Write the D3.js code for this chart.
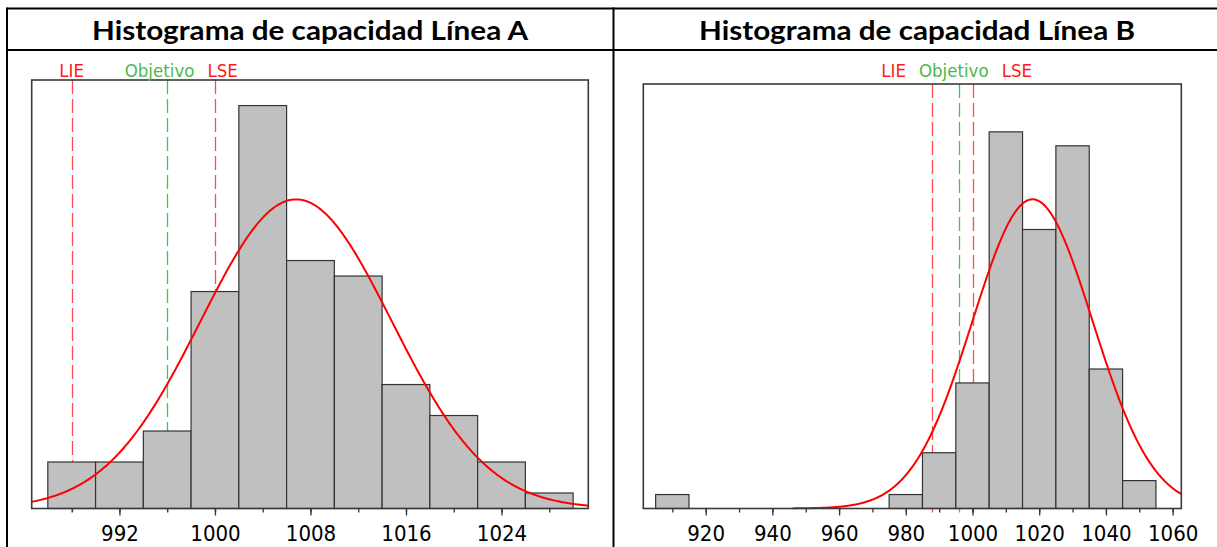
<!DOCTYPE html>
<html>
<head>
<meta charset="utf-8">
<script src="https://cdn.jsdelivr.net/npm/d3@7"></script>
<style>
    html, body { margin: 0; padding: 0; background: #fff; }
    svg { display: block; }
</style>
</head>
<body>
<svg id="chart" width="1217" height="547"></svg>
<script>
(function () {
    'use strict';

    // Línea A
    var edgesA = [986, 990, 994, 998, 1002, 1006, 1010, 1014, 1018, 1022, 1026, 1030];
    var countsA = [3, 3, 5, 14, 26, 16, 15, 8, 6, 3, 1];
    var minorTicksA = [988, 992, 996, 1000, 1004, 1008, 1012, 1016, 1020, 1024, 1028];
    var labelTicksA = [992, 1000, 1008, 1016, 1024];
    var xDomainA = [984.65, 1031.27];
    var yMaxA = 27.65;
    var meanA = 1006.8, sdA = 8.0;

    // Línea B
    var edgesB = [905, 915, 925, 935, 945, 955, 965, 975, 985, 995, 1005, 1015, 1025, 1035, 1045, 1055];
    var countsB = [1, 0, 0, 0, 0, 0, 0, 1, 4, 9, 27, 20, 26, 10, 2];
    var minorTicksB = [910, 920, 930, 940, 950, 960, 970, 980, 990, 1000, 1010, 1020, 1030, 1040, 1050, 1060];
    var labelTicksB = [920, 940, 960, 980, 1000, 1020, 1040, 1060];
    var xDomainB = [901.3, 1062.6];
    var yMaxB = 30.43;
    var meanB = 1018, sdB = 18.0;

    // specification limits (same for both lines)
    var specNames = ['LIE', 'Objetivo', 'LSE'];
    var specValues = [988, 996, 1000];

    var titles = ['Histograma de capacidad Línea A', 'Histograma de capacidad Línea B'];

    var labelColor = {LIE: '#ff1a1a', Objetivo: '#4cb84c', LSE: '#ff1a1a'};
    var lineColor = {LIE: '#ff4d4d', Objetivo: '#4cc04c', LSE: '#ff4d4d'};

    var svg = d3.select('#chart');
    var bottom = 508.5;

    var panels = [
        {edges: edgesA, counts: countsA, minor: minorTicksA, major: labelTicksA, xDomain: xDomainA, yMax: yMaxA,
            mean: meanA, sd: sdA, left: 31.7, right: 588.3, top: 80, cellLeft: 7, cellRight: 613, title: titles[0]},
        {edges: edgesB, counts: countsB, minor: minorTicksB, major: labelTicksB, xDomain: xDomainB, yMax: yMaxB,
            mean: meanB, sd: sdB, left: 643.3, right: 1181.3, top: 84, cellLeft: 613, cellRight: 1221, title: titles[1]}
    ];

    // table grid
    var grid = svg.append('g').attr('stroke', '#000').attr('stroke-width', 2);
    grid.append('line').attr('x1', 7).attr('x2', 1217).attr('y1', 8.5).attr('y2', 8.5);
    grid.append('line').attr('x1', 7).attr('x2', 1217).attr('y1', 50).attr('y2', 50);
    grid.append('line').attr('x1', 7).attr('x2', 7).attr('y1', 7.5).attr('y2', 547);
    grid.append('line').attr('x1', 613.5).attr('x2', 613.5).attr('y1', 7.5).attr('y2', 547);

    panels.forEach(function (p, pi) {
        var g = svg.append('g');

        // title
        g.append('text')
            .attr('x', (p.cellLeft + p.cellRight) / 2)
            .attr('y', 40)
            .attr('text-anchor', 'middle')
            .attr('textLength', 436)
            .attr('lengthAdjust', 'spacingAndGlyphs')
            .style('font-family', 'Lato, "Open Sans", sans-serif')
            .style('font-weight', 'bold')
            .style('font-size', '27px')
            .attr('fill', '#000')
            .text(p.title);

        var x = d3.scaleLinear().domain(p.xDomain).range([p.left, p.right]);
        var y = d3.scaleLinear().domain([0, p.yMax]).range([bottom, p.top]);

        var clipId = 'clip' + pi;
        g.append('clipPath').attr('id', clipId)
            .append('rect')
            .attr('x', p.left).attr('y', p.top)
            .attr('width', p.right - p.left).attr('height', bottom - p.top + 1);

        // spec lines (behind bars)
        var specs = specNames.map(function (n, i) { return {name: n, value: specValues[i]}; });
        g.append('g').selectAll('line').data(specs).enter().append('line')
            .attr('x1', function (d) { return Math.round(x(d.value)) + 0.5; })
            .attr('x2', function (d) { return Math.round(x(d.value)) + 0.5; })
            .attr('y1', p.top)
            .attr('y2', bottom + 4)
            .attr('stroke', function (d) { return lineColor[d.name]; })
            .attr('stroke-width', 1.3)
            .attr('stroke-dasharray', '14,5');

        // bars
        var bins = p.counts.map(function (c, i) { return {x0: p.edges[i], x1: p.edges[i + 1], n: c}; });
        g.append('g').selectAll('rect').data(bins).enter().append('rect')
            .attr('x', function (d) { return x(d.x0); })
            .attr('width', function (d) { return x(d.x1) - x(d.x0); })
            .attr('y', function (d) { return y(d.n); })
            .attr('height', function (d) { return y(0) - y(d.n); })
            .attr('fill', '#c0c0c0')
            .attr('stroke', '#333')
            .attr('stroke-width', 1.2);

        // fitted normal curve
        var total = d3.sum(p.counts);
        var bw = p.edges[1] - p.edges[0];
        var lo = Math.max(p.xDomain[0], p.mean - 4 * p.sd);
        var hi = p.xDomain[1];
        var pts = d3.range(lo, hi, (hi - lo) / 500).concat([hi]);
        var line = d3.line()
            .x(function (v) { return x(v); })
            .y(function (v) {
                var z = (v - p.mean) / p.sd;
                return y(total * bw * Math.exp(-0.5 * z * z) / (p.sd * Math.sqrt(2 * Math.PI)));
            });
        g.append('path')
            .attr('clip-path', 'url(#' + clipId + ')')
            .attr('d', line(pts))
            .attr('fill', 'none')
            .attr('stroke', '#ff0000')
            .attr('stroke-width', 2);

        // frame
        g.append('rect')
            .attr('x', p.left).attr('y', p.top)
            .attr('width', p.right - p.left).attr('height', bottom - p.top)
            .attr('fill', 'none')
            .attr('stroke', '#3a3a3a')
            .attr('stroke-width', 1.6);

        // axes
        var minorAxis = d3.axisBottom(x).tickValues(p.minor).tickSize(4).tickFormat('');
        var majorAxis = d3.axisBottom(x).tickValues(p.major).tickSize(7).tickPadding(10).tickFormat(d3.format('d'));
        [minorAxis, majorAxis].forEach(function (ax) {
            var a = g.append('g').attr('transform', 'translate(0,' + bottom + ')').call(ax);
            a.select('.domain').remove();
            a.selectAll('line').attr('stroke', '#333').attr('stroke-width', 1.3);
            a.selectAll('text')
                .attr('fill', '#000')
                .style('font-family', '"DejaVu Sans Condensed", "DejaVu Sans", sans-serif')
                .style('font-size', '22px');
        });

        // spec labels, pushed apart when they collide
        var labels = g.append('g').selectAll('text').data(specs).enter().append('text')
            .attr('y', 77)
            .attr('text-anchor', 'middle')
            .style('font-family', '"DejaVu Sans Condensed", "DejaVu Sans", sans-serif')
            .style('font-size', '18.5px')
            .attr('fill', function (d) { return labelColor[d.name]; })
            .text(function (d) { return d.name; });
        labels.each(function (d) {
            d.w = this.getComputedTextLength();
            d.cx = x(d.value);
        });
        var gap = 13, k, i, a, b, overlap;
        for (k = 0; k < 30; k += 1) {
            for (i = 0; i < specs.length - 1; i += 1) {
                a = specs[i];
                b = specs[i + 1];
                overlap = (a.cx + a.w / 2 + gap) - (b.cx - b.w / 2);
                if (overlap > 0) {
                    a.cx -= overlap / 2;
                    b.cx += overlap / 2;
                }
            }
        }
        labels.attr('x', function (d) { return d.cx; });
    });
}());
</script>
</body>
</html>
